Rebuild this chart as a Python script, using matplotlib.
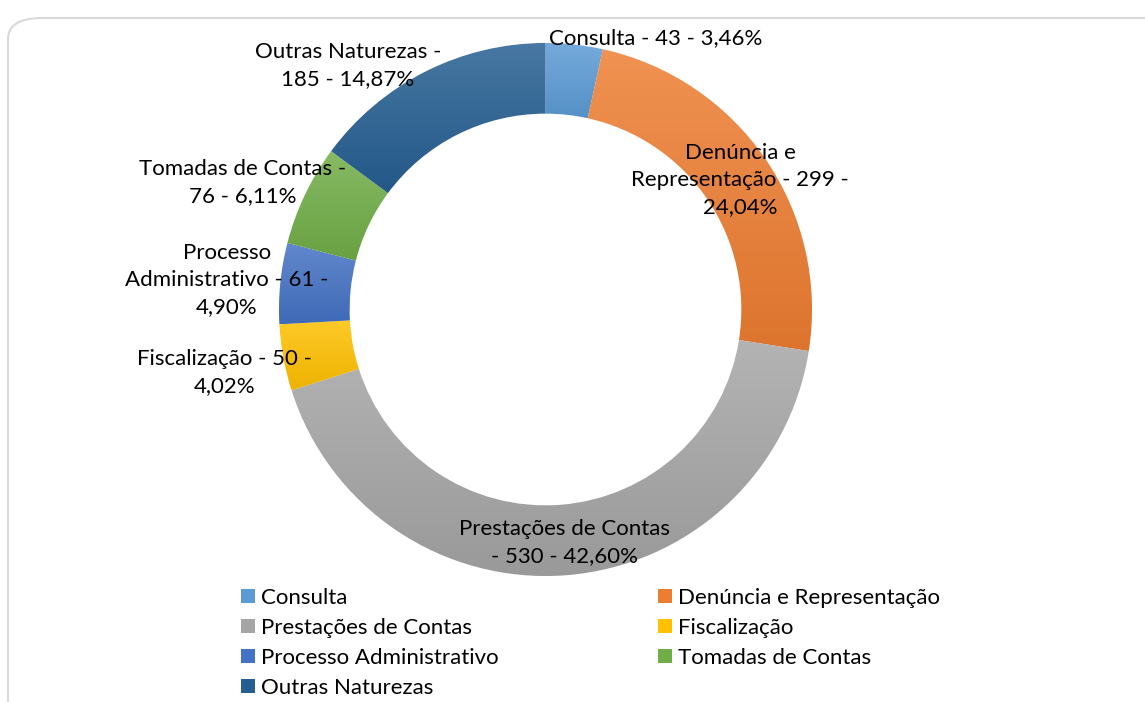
import textwrap
import numpy as np
import matplotlib.pyplot as plt
from matplotlib.colors import to_rgb
from matplotlib.patches import FancyBboxPatch, Patch

categories = ["Consulta", "Denúncia e Representação", "Prestações de Contas",
              "Fiscalização", "Processo Administrativo", "Tomadas de Contas",
              "Outras Naturezas"]
values = [43, 299, 530, 50, 61, 76, 185]
colors = ["#5B9BD5", "#ED7D31", "#A5A5A5", "#FFC000", "#4472C4", "#70AD47", "#255E91"]

# label layout (data units, pie radius = 1) and wrap width in characters
label_pos = [(0.415, 1.019), (0.730, 0.486), (0.073, -0.876), (-1.203, -0.235),
             (-1.195, 0.111), (-1.135, 0.475), (-0.741, 0.914)]
wrap_width = [30, 21, 20, 19, 21, 19, 18]

plt.rcParams["font.family"] = ["Lato", "DejaVu Sans"]
FS = 16

fig = plt.figure(figsize=(11.45, 7.02), dpi=100)

# rounded chart border
border = FancyBboxPatch((8 / 1145, -0.05), 1.2, (702 - 18) / 702 + 0.05,
                        boxstyle="round,pad=0,rounding_size=0.03",
                        transform=fig.transFigure, facecolor="white",
                        edgecolor="#d9d9d9", linewidth=1.5, zorder=0)
fig.patches.append(border)

r_px = 266.5
cx, cy = 545.5, 309.5
ax = fig.add_axes([(cx - r_px) / 1145, (702 - cy - r_px) / 702,
                   2 * r_px / 1145, 2 * r_px / 702])
ax.set_zorder(1)

wedges, _ = ax.pie(values, colors=colors, startangle=90, counterclock=False,
                   radius=1.0, wedgeprops=dict(width=0.265, edgecolor="white",
                                               linewidth=0.8))
ax.set_aspect("auto")
ax.axis("off")


def shade(c, f):
    c = np.array(to_rgb(c))
    if f >= 0:
        return c + (1 - c) * f
    return c * (1 + f)


# vertical gradient inside each wedge, lighter on top
for w, c in zip(wedges, colors):
    ext = w.get_path().get_extents()
    top, bot = shade(c, 0.16), shade(c, -0.07)
    t = np.linspace(0, 1, 256)[:, None]
    grad = top[None, :] * (1 - t) + bot[None, :] * t
    img = np.repeat(grad[:, None, :], 2, axis=1)
    im = ax.imshow(img, extent=[ext.x0, ext.x1, ext.y0, ext.y1], origin="upper",
                   aspect="auto", zorder=w.get_zorder() + 0.1, interpolation="bilinear")
    im.set_clip_path(w)

total = sum(values)
for i, (name, v) in enumerate(zip(categories, values)):
    pct = f"{100 * v / total:.2f}".replace(".", ",")
    txt = textwrap.fill(f"{name} - {v} - {pct}%", width=wrap_width[i])
    x, y = label_pos[i]
    ax.text(x, y, txt, ha="center", va="center", fontsize=FS,
            linespacing=1.45, color="#000000", zorder=5)

ax.set_xlim(-1, 1)
ax.set_ylim(-1, 1)

handles = [Patch(facecolor=c, edgecolor="none") for c in colors]
order = [0, 2, 4, 6, 1, 3, 5]
fig.legend([handles[i] for i in order], [categories[i] for i in order],
           ncol=2, loc="upper left", bbox_to_anchor=(241 / 1145, 1 - 588 / 702),
           frameon=False, fontsize=FS, handlelength=0.62, handleheight=0.62,
           handletextpad=0.3, columnspacing=7.15, labelspacing=0.45,
           borderaxespad=0, borderpad=0)

plt.savefig("out.png", dpi=100)
